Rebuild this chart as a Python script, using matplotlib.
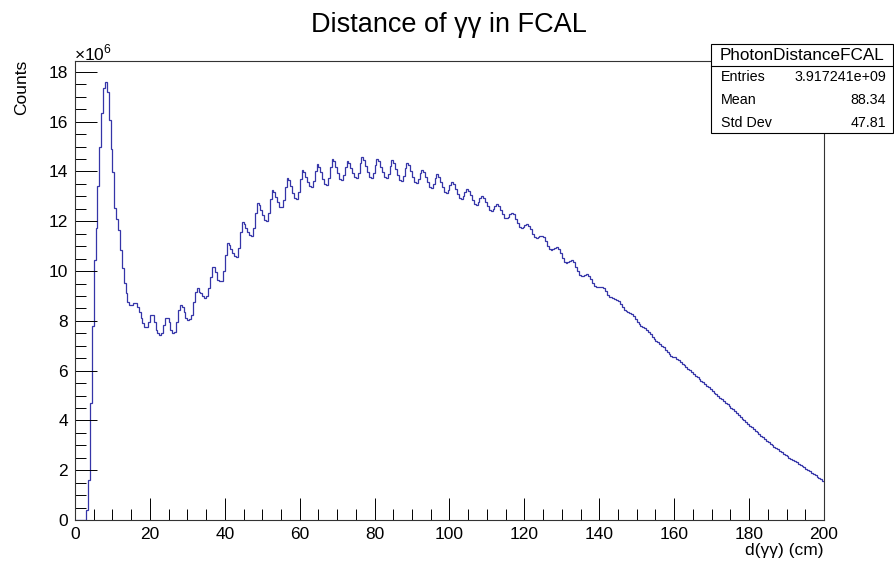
import numpy as np
import matplotlib
matplotlib.use("Agg")
import matplotlib.pyplot as plt
from matplotlib.patches import Rectangle
from matplotlib.lines import Line2D
from matplotlib.ticker import MultipleLocator

plt.rcParams['font.family'] = ['Liberation Sans', 'DejaVu Sans']
plt.rcParams['mathtext.fontset'] = 'custom'
plt.rcParams['mathtext.rm'] = 'Liberation Sans'

# ---- data (counts in units of 1e6, 0.5 cm bins, 0..200 cm) ----
x_min, x_max, n_bins = 0.0, 200.0, 400

counts_peak = [0, 0, 0, 0, 0, 0, 0.4, 1.6, 4.7, 7.8, 10.46, 11.74, 13.43, 14.99,
               16.36, 17.35, 17.58, 17.20, 16.07, 14.92, 13.97, 12.55, 12.08,
               11.64, 10.86, 10.12, 9.51, 9.10]

counts_dip = [8.77, 8.62, 8.64, 8.72, 8.70, 8.57, 8.37, 8.10, 7.90, 7.74,
              7.76, 7.96, 8.23, 8.22, 7.96, 7.63, 7.50, 7.43, 7.52, 7.83,
              8.10, 8.10, 7.96, 7.63, 7.50, 7.55, 7.96, 8.43, 8.63, 8.57,
              8.37, 8.10, 8.03, 8.08, 8.23, 8.77, 9.17, 9.31, 9.17, 9.10,
              9.00, 8.90, 9.00, 9.31, 9.77, 10.17, 10.17, 9.97, 9.64, 9.61,
              9.61, 9.99]

counts_osc = [
    10.66, 11.11, 11.05, 10.90, 10.74, 10.61, 10.58, 10.93,
    11.56, 11.98, 11.91, 11.75, 11.58, 11.44, 11.41, 11.74,
    12.34, 12.74, 12.65, 12.45, 12.24, 12.06, 12.02, 12.33,
    12.88, 13.25, 13.17, 12.97, 12.77, 12.59, 12.56, 12.86,
    13.39, 13.75, 13.65, 13.40, 13.14, 12.92, 12.88, 13.18,
    13.71, 14.06, 13.98, 13.78, 13.57, 13.40, 13.36, 13.60,
    14.02, 14.30, 14.20, 13.96, 13.71, 13.49, 13.45, 13.72,
    14.20, 14.52, 14.42, 14.18, 13.93, 13.71, 13.67, 13.86,
    14.20, 14.43, 14.35, 14.15, 13.94, 13.77, 13.73, 13.94,
    14.33, 14.58, 14.48, 14.24, 13.99, 13.77, 13.73, 13.93,
    14.28, 14.52, 14.43, 14.20, 13.97, 13.77, 13.73, 13.91,
    14.23, 14.45, 14.35, 14.12, 13.87, 13.66, 13.62, 13.80,
    14.13, 14.35, 14.25, 14.03, 13.78, 13.58, 13.54, 13.68,
    13.92, 14.08, 13.99, 13.78, 13.56, 13.38, 13.34, 13.48,
    13.72, 13.88, 13.79, 13.59, 13.37, 13.19, 13.15, 13.26,
    13.46, 13.59, 13.51, 13.31, 13.11, 12.93, 12.90, 13.00,
    13.17, 13.28, 13.21, 13.04, 12.85, 12.70, 12.67, 12.76,
    12.92, 13.02, 12.95, 12.78, 12.60, 12.45, 12.42, 12.49,
    12.62, 12.70, 12.63, 12.47, 12.29, 12.15, 12.12, 12.18,
    12.28, 12.35, 12.28, 12.11, 11.93, 11.78, 11.75, 11.79,
    11.86, 11.90, 11.83, 11.67, 11.50, 11.36, 11.33, 11.35,
    11.39, 11.42, 11.35, 11.19, 11.01, 10.87, 10.84, 10.88,
    10.94, 10.98, 10.90, 10.72, 10.53, 10.36, 10.33, 10.36,
    10.41, 10.44, 10.36, 10.18, 9.99, 9.83, 9.80, 9.82,
    9.86, 9.88, 9.82, 9.68, 9.52, 9.39, 9.37, 9.38]

counts_tail = [
    9.38, 9.36, 9.30, 9.18, 9.05, 8.96, 8.94, 8.92, 8.88, 8.85,
    8.78, 8.66, 8.54, 8.44, 8.40, 8.36, 8.32, 8.28, 8.20, 8.08,
    7.96, 7.86, 7.80, 7.75, 7.70, 7.64, 7.56, 7.46, 7.36, 7.27,
    7.20, 7.14, 7.08, 7.01, 6.93, 6.84, 6.75, 6.67, 6.60, 6.54,
    6.55, 6.48, 6.41, 6.35, 6.28, 6.21, 6.14, 6.07, 6.01, 5.94,
    5.87, 5.80, 5.73, 5.67, 5.60, 5.53, 5.46, 5.39, 5.33, 5.26,
    5.19, 5.12, 5.06, 4.99, 4.92, 4.85, 4.79, 4.72, 4.65, 4.58,
    4.51, 4.44, 4.36, 4.29, 4.22, 4.15, 4.07, 4.00, 3.93, 3.86,
    3.79, 3.72, 3.65, 3.59, 3.52, 3.45, 3.39, 3.32, 3.25, 3.18,
    3.12, 3.07, 3.01, 2.95, 2.89, 2.84, 2.78, 2.72, 2.67, 2.61,
    2.56, 2.51, 2.46, 2.41, 2.36, 2.31, 2.26, 2.21, 2.16, 2.11,
    2.06, 2.00, 1.95, 1.90, 1.85, 1.79, 1.74, 1.69, 1.64, 1.58]

stats_labels = ["Entries", "Mean", "Std Dev"]
stats_values = ["3.917241e+09", "88.34", "47.81"]
hist_name = "PhotonDistanceFCAL"
title = "Distance of γγ in FCAL"
xlabel = "d(γγ) (cm)"
ylabel = "Counts"

counts = np.array(counts_peak + counts_dip + counts_osc + counts_tail)
edges = np.linspace(x_min, x_max, n_bins + 1)

# ---- figure ----
W, H = 895, 565
fig = plt.figure(figsize=(W / 100, H / 100), dpi=100)
fig.patch.set_facecolor('white')

def fx(px):
    return px / W

def fy(py):
    return 1 - py / H

L, R, T, B = 75, 824, 60.5, 520
ax = fig.add_axes([fx(L), fy(B), (R - L) / W, (B - T) / H])
ax.stairs(counts, edges, baseline=None, color='#3535a8', linewidth=0.9)
ax.set_xlim(x_min, x_max)
ax.set_ylim(0, 1.05 * counts.max())

ax.xaxis.set_major_locator(MultipleLocator(20))
ax.xaxis.set_minor_locator(MultipleLocator(5))
ax.yaxis.set_major_locator(MultipleLocator(2))
ax.yaxis.set_minor_locator(MultipleLocator(0.5))
ax.tick_params(which='both', direction='in', top=False, right=False,
               width=0.7, colors='black', labelsize=12.5, pad=5)
ax.tick_params(which='major', length=16)
ax.tick_params(which='minor', length=8)
for s in ax.spines.values():
    s.set_linewidth(0.8)
    s.set_color('#333333')

fig.text(fx(449), fy(25), title, ha='center', va='center', fontsize=19.5)
fig.text(fx(22), fy(60), ylabel, rotation=90, ha='center', va='top', fontsize=12.5)
fig.text(fx(R), fy(551), xlabel, ha='right', va='center', fontsize=12.5)
fig.text(fx(74), fy(53), r'$\times10^{6}$', ha='left', va='center', fontsize=12.5)

# ---- stats box ----
bx0, by0, bx1, by1 = 711, 44, 893, 133
fig.add_artist(Rectangle((fx(bx0), fy(by1)), (bx1 - bx0) / W, (by1 - by0) / H,
                         transform=fig.transFigure, facecolor='white',
                         edgecolor='black', linewidth=0.8, zorder=5))
fig.add_artist(Line2D([fx(bx0), fx(bx1)], [fy(66), fy(66)],
                      transform=fig.transFigure, color='black', linewidth=0.8, zorder=6))
fig.text(fx((bx0 + bx1) / 2), fy(55), hist_name, ha='center', va='center',
         fontsize=12.3, zorder=7)
row_y = [77, 100.5, 123]
for lab, val, yy in zip(stats_labels, stats_values, row_y):
    fig.text(fx(721), fy(yy), lab, ha='left', va='center', fontsize=10.3, zorder=7)
    fig.text(fx(886), fy(yy), val, ha='right', va='center', fontsize=10.3, zorder=7)

fig.savefig("out.png", dpi=100, facecolor='white')
